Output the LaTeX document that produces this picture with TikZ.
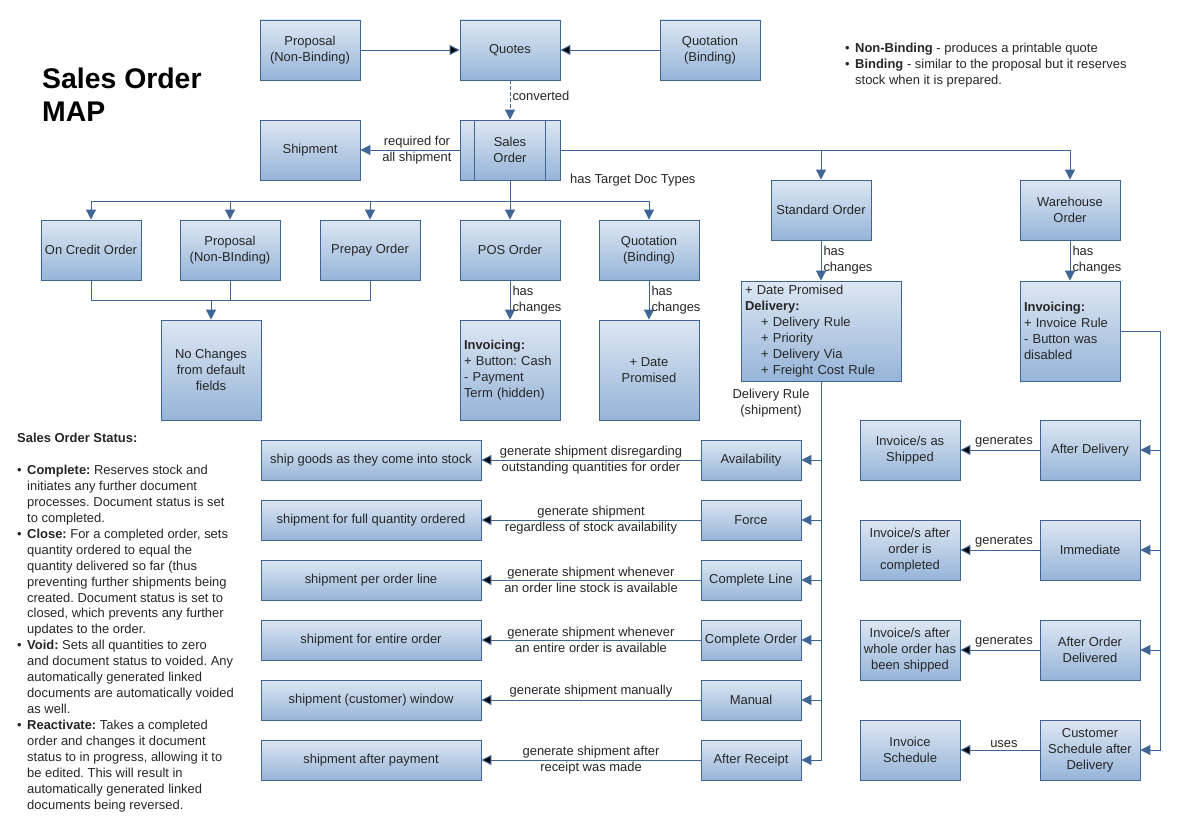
\documentclass[tikz,border=0pt]{standalone}
\usepackage{fontspec}
\setmainfont{Liberation Sans}
\usetikzlibrary{arrows.meta}

\definecolor{boxtop}{RGB}{221,231,243}
\definecolor{boxbot}{RGB}{150,180,216}
\definecolor{bord}{RGB}{62,101,148}
\definecolor{wire}{RGB}{62,101,148}

\newcommand{\itm}[1]{\makebox[10bp][l]{\textbullet}#1}
\newcommand{\ind}{\hspace*{10bp}}
\frenchspacing

\begin{document}
\begin{tikzpicture}[x=1bp,y=-1bp,font=\fontsize{13}{16}\selectfont]
            \tikzstyle{box}=[rectangle,draw=bord,line width=0.9bp,top color=boxtop,bottom color=boxbot,
                             minimum width=100bp,minimum height=60bp,align=center,inner sep=2bp,text=black!85]
            \tikzstyle{rule}=[box,minimum height=40bp]                 % delivery rule
            \tikzstyle{res}=[box,minimum width=220bp,minimum height=40bp] % shipment result
            \tikzstyle{tall}=[box,minimum height=100bp]                % changes
            \tikzstyle{lbl}=[inner sep=2bp,text=black!85,align=center]
            \tikzstyle{wire}=[draw=wire,line width=1bp]
            \tikzstyle{link}=[wire,-{Triangle[length=10bp,width=10bp]}]

            \useasboundingbox[fill=white] (0,0) rectangle (1188,840);

            % title and notes
            \node[anchor=north west,align=left,inner sep=0,font=\fontsize{28.5}{33}\selectfont\bfseries] (title) at (42,68) {Sales Order\\MAP};
            \node[anchor=north west,align=left,inner sep=0,text=black!85] (notes) at (845,43)
                {\itm{\textbf{Non-Binding} - produces a printable quote}\\
                 \itm{\textbf{Binding} - similar to the proposal but it reserves}\\
                 \ind stock when it is prepared.};

            % quotes
            \node[box] (prop) at (310,50) {Proposal\\(Non-Binding)};
            \node[box] (quotes) at (510,50) {Quotes};
            \node[box] (quot) at (710,50) {Quotation\\(Binding)};
            \node[box] (ship) at (310,150) {Shipment};
            \node[box] (so) at (510,150) {Sales\\Order};
            \draw[bord,line width=0.9bp] ([xshift=15bp]so.north west) -- ([xshift=15bp]so.south west);
            \draw[bord,line width=0.9bp] ([xshift=-15bp]so.north east) -- ([xshift=-15bp]so.south east);

            \path[link] (prop) edge (quotes);
            \path[link] (quot) edge (quotes);
            \draw[link,dash pattern=on 4bp off 2bp] (quotes) -- node[lbl,right,pos=0.4] {converted} (so);
            \draw[link] (so) -- node[lbl,pos=0.43] {required for\\all shipment} (ship);

            % target doc types
            \node[box] (credit) at (91,250) {On Credit Order};
            \node[box] (prop2) at (230,250) {Proposal\\(Non-BInding)};
            \node[box] (prepay) at (370,250) {Prepay Order};
            \node[box] (pos) at (510,250) {POS Order};
            \node[box] (quot2) at (649,250) {Quotation\\(Binding)};
            \node[box] (std) at (821,210) {Standard Order};
            \node[box] (wh) at (1070,210) {Warehouse\\Order};
            \node[lbl,anchor=west] (tdt) at (568,180) {has Target Doc Types};

            \coordinate (bus) at (510,201);
            \draw[wire] (so) -- (bus);
            \draw[link] (bus) -| (credit);
            \draw[link] (bus) -| (prop2);
            \draw[link] (bus) -| (prepay);
            \draw[link] (bus) -- (pos);
            \draw[link] (bus) -| (quot2);
            \draw[link] (so.east) -| (std);
            \draw[link] (so.east) -| (wh);

            % changes
            \node[tall] (nochg) at (211,370) {No Changes\\from default\\fields};
            \node[tall,align=left,text width=92bp] (posinv) at (510,370)
                {\textbf{Invoicing:}\\+ Button: Cash\\- Payment\\Term (hidden)};
            \node[tall] (quotchg) at (649,370) {+ Date\\Promised};
            \node[tall,minimum width=160bp,align=left,text width=152bp] (stdchg) at (821,331)
                {+ Date Promised\\\textbf{Delivery:}\\\ind\hspace*{6bp}+ Delivery Rule\\\ind\hspace*{6bp}+ Priority\\
                 \ind\hspace*{6bp}+ Delivery Via\\\ind\hspace*{6bp}+ Freight Cost Rule};
            \node[tall,align=left,text width=92bp] (whinv) at (1070,331)
                {\textbf{Invoicing:}\\+ Invoice Rule\\- Button was\\disabled};

            \coordinate (nc) at (211,300);
            \draw[wire] (credit) |- (nc);
            \draw[wire] (prepay) |- (nc);
            \draw[wire] (prop2) -- (prop2 |- nc);
            \draw[link] (nc) -- (nochg);
            \draw[link] (pos) -- node[lbl,right,align=left] {has\\changes} (posinv);
            \draw[link] (quot2) -- node[lbl,right,align=left] {has\\changes} (quotchg);
            \draw[link] (std) -- node[lbl,right,align=left] {has\\changes} (stdchg);
            \draw[link] (wh) -- node[lbl,right,align=left] {has\\changes} (whinv);

            % delivery rules
            \node[lbl] (drl) at (771,403) {Delivery Rule\\(shipment)};
            \node[rule] (avail) at (751,460) {Availability};
            \node[rule] (force) at (751,520) {Force};
            \node[rule] (cline) at (751,580) {Complete Line};
            \node[rule] (corder) at (751,640) {Complete Order};
            \node[rule] (manual) at (751,700) {Manual};
            \node[rule] (receipt) at (751,760) {After Receipt};
            \node[res] (goods) at (371,460) {ship goods as they come into stock};
            \node[res] (full) at (371,520) {shipment for full quantity ordered};
            \node[res] (perline) at (371,580) {shipment per order line};
            \node[res] (entire) at (371,640) {shipment for entire order};
            \node[res] (window) at (371,700) {shipment (customer) window};
            \node[res] (payment) at (371,760) {shipment after payment};

            \draw[link] (stdchg.south) |- (avail);
            \draw[link] (stdchg.south) |- (force);
            \draw[link] (stdchg.south) |- (cline);
            \draw[link] (stdchg.south) |- (corder);
            \draw[link] (stdchg.south) |- (manual);
            \draw[link] (stdchg.south) |- (receipt);

            \path[link] (avail) edge node[lbl] {generate shipment disregarding\\outstanding quantities for order} (goods);
            \path[link] (force) edge node[lbl] {generate shipment\\regardless of stock availability} (full);
            \path[link] (cline) edge node[lbl] {generate shipment whenever\\an order line stock is available} (perline);
            \path[link] (corder) edge node[lbl] {generate shipment whenever\\an entire order is available} (entire);
            \path[link] (manual) edge node[lbl,above] {generate shipment manually} (window);
            \path[link] (receipt) edge node[lbl] {generate shipment after\\receipt was made} (payment);

            % invoice rules
            \node[box] (afterdel) at (1090,450) {After Delivery};
            \node[box] (immed) at (1090,550) {Immediate};
            \node[box] (afterord) at (1090,650) {After Order\\Delivered};
            \node[box] (custsch) at (1090,750) {Customer\\Schedule after\\Delivery};
            \node[box] (asship) at (910,450) {Invoice/s as\\Shipped};
            \node[box] (ordcomp) at (910,550) {Invoice/s after\\order is\\completed};
            \node[box] (whole) at (910,650) {Invoice/s after\\whole order has\\been shipped};
            \node[box] (invsch) at (910,750) {Invoice\\Schedule};

            \coordinate (ir) at (1160,331);
            \draw[wire] (whinv) -- (ir);
            \draw[link] (ir) |- (afterdel);
            \draw[link] (ir) |- (immed);
            \draw[link] (ir) |- (afterord);
            \draw[link] (ir) |- (custsch);

            \path[link] (afterdel) edge node[lbl,above,pos=0.45] {generates} (asship);
            \path[link] (immed) edge node[lbl,above,pos=0.45] {generates} (ordcomp);
            \path[link] (afterord) edge node[lbl,above,pos=0.45] {generates} (whole);
            \path[link] (custsch) edge node[lbl,above,pos=0.45] {uses} (invsch);

            % status
            \node[anchor=north west,align=left,inner sep=0,text=black!85] (status) at (17,433)
                {\textbf{Sales Order Status:}\\[16bp]
                 \itm{\textbf{Complete:} Reserves stock and}\\
                 \ind initiates any further document\\
                 \ind processes. Document status is set\\
                 \ind to completed.\\
                 \itm{\textbf{Close:} For a completed order, sets}\\
                 \ind quantity ordered to equal the\\
                 \ind quantity delivered so far (thus\\
                 \ind preventing further shipments being\\
                 \ind created. Document status is set to\\
                 \ind closed, which prevents any further\\
                 \ind updates to the order.\\
                 \itm{\textbf{Void:} Sets all quantities to zero}\\
                 \ind and document status to voided. Any\\
                 \ind automatically generated linked\\
                 \ind documents are automatically voided\\
                 \ind as well.\\
                 \itm{\textbf{Reactivate:} Takes a completed}\\
                 \ind order and changes it document\\
                 \ind status to in progress, allowing it to\\
                 \ind be edited. This will result in\\
                 \ind automatically generated linked\\
                 \ind documents being reversed.};
        \end{tikzpicture}
\end{document}
